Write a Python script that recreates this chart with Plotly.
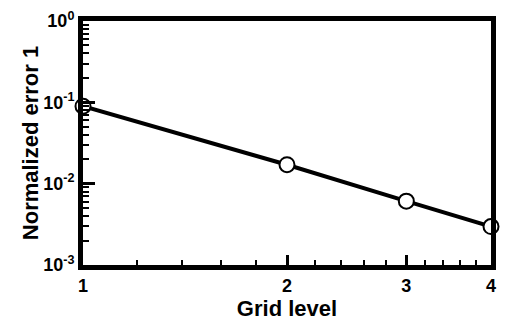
import numpy as np
import plotly.graph_objects as go

grid_level = [1, 2, 3, 4]
error_1 = [0.0896, 0.0171, 0.0061, 0.00297]

x_ticks = [1, 2, 3, 4]
x_ticktext = ["1", "2", "3", "4"]
y_ticks = [1e-3, 1e-2, 1e-1, 1e0]
y_ticktext = ["10<sup>-3</sup>", "10<sup>-2</sup>", "10<sup>-1</sup>", "10<sup>0</sup>"]
x_minor = [1.2, 1.4, 1.6, 1.8, 2.2, 2.4, 2.6, 2.8, 3.2, 3.4, 3.6, 3.8]
y_minor = [m * 10.0 ** e for e in (-3, -2, -1) for m in range(2, 10)]

fig = go.Figure()
fig.add_trace(go.Scatter(
    x=grid_level, y=error_1, mode="lines+markers",
    line=dict(color="black", width=4),
    marker=dict(symbol="circle", size=15, color="white",
                line=dict(color="black", width=2)),
    cliponaxis=False, showlegend=False,
))

font_family = "Liberation Sans, Arial, sans-serif"
fig.update_layout(
    width=505, height=323,
    margin=dict(l=83, r=9, t=16, b=58),
    paper_bgcolor="white", plot_bgcolor="white",
    font=dict(family=font_family, color="black", size=18, weight="bold"),
    xaxis=dict(
        type="log", range=[0, np.log10(4)],
        tickvals=x_ticks, ticktext=x_ticktext,
        ticks="inside", ticklen=10, tickwidth=3, tickcolor="black",
        minor=dict(tickvals=x_minor, ticks="inside", ticklen=5, tickwidth=1.5, tickcolor="black"),
        showline=True, linewidth=5, linecolor="black", mirror=True,
        showgrid=False, zeroline=False,
        title=dict(text="Grid level", font=dict(size=22, weight="bold"), standoff=0),
        tickfont=dict(size=18, weight="bold"),
    ),
    yaxis=dict(
        type="log", range=[-3, 0],
        tickvals=y_ticks, ticktext=y_ticktext,
        ticks="inside", ticklen=12, tickwidth=3, tickcolor="black",
        minor=dict(tickvals=y_minor, ticks="inside", ticklen=6, tickwidth=1.5, tickcolor="black"),
        showline=True, linewidth=5, linecolor="black", mirror=True,
        showgrid=False, zeroline=False,
        title=dict(text="Normalized error 1", font=dict(size=22, weight="bold"), standoff=0),
        tickfont=dict(size=18, weight="bold"),
    ),
)

fig.write_html("out.html")
